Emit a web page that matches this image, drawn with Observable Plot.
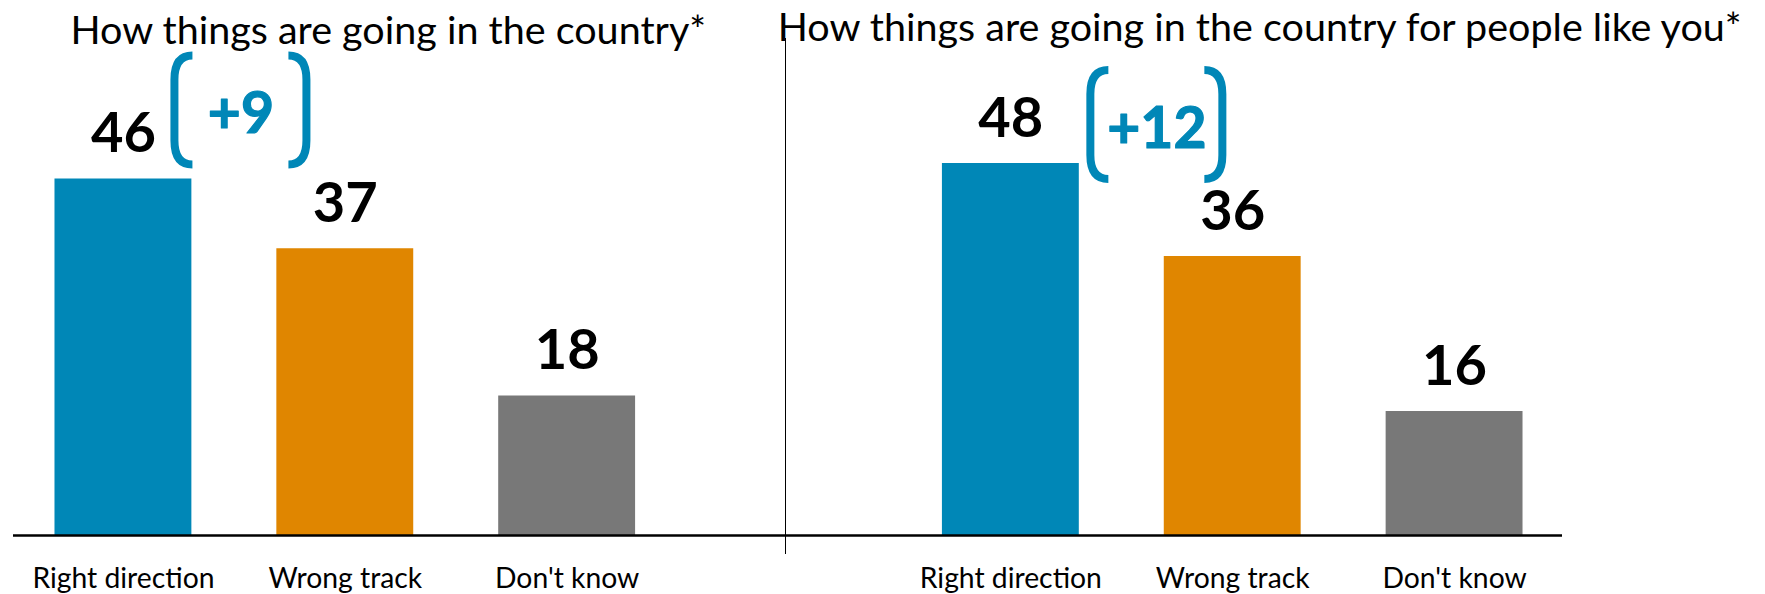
<!DOCTYPE html>
<html>
<head>
<meta charset="utf-8">
<script src="https://cdn.jsdelivr.net/npm/d3@7"></script>
<script src="https://cdn.jsdelivr.net/npm/@observablehq/plot@0.6"></script>
<style>
  html, body { margin: 0; padding: 0; background: #fff; }
  #chart svg { display: block; }
</style>
</head>
<body>
<div id="chart"></div>
<script>
// ---- data ----
const categories = ["Right direction", "Wrong track", "Don't know"];
const countryValues = [46, 37, 18];
const peopleValues = [48, 36, 16];
const panels = ["country", "people"];
const panelTitles = [
  "How things are going in the country*",
  "How things are going in the country for people like you*"
];
const barColors = ["#0087B7", "#E08600", "#787878"];
const accent = "#0087B7";

// ---- table ----
const gapKey = "gap";
const keyOf = (p, c) => p + "|" + c;
const valuesByPanel = { country: countryValues, people: peopleValues };
const rows = panels.flatMap(p => categories.map((c, i) => ({
  panel: p, category: c, key: keyOf(p, c), value: valuesByPanel[p][i]
})));
const xDomain = [
  ...categories.map(c => keyOf("country", c)),
  gapKey,
  ...categories.map(c => keyOf("people", c))
];

// per-panel annotation styling (pixel offsets)
const titleStyle = [{ dx: 43, dy: 43 }, { dx: 27, dy: 40 }];
const diffStyle = [{ dx: 117.5, dy: -46 }, { dx: 146, dy: -16 }];

const marks = [
  Plot.barY(rows, { x: "key", y: "value", fill: "category" }),
  Plot.text(rows, {
    x: "key", y: "value", text: d => String(d.value),
    dy: -27, lineAnchor: "bottom", fontSize: 56, fontWeight: "bold", fill: "black"
  }),
  Plot.ruleY([0], { stroke: "black", strokeWidth: 2.5, insetLeft: 1, insetRight: 3 }),
  Plot.ruleX([gapKey], { x: d => d, dx: -3.5, stroke: "black", strokeWidth: 1, insetTop: 38, insetBottom: -19 }),
  Plot.axisX({
    label: null, tickSize: 0, tickPadding: 32, fontSize: 28.3, fill: "black",
    tickFormat: k => k === gapKey ? "" : k.split("|")[1]
  })
];

panels.forEach((p, i) => {
  marks.push(Plot.text([panelTitles[i]], {
    x: () => keyOf(p, "Wrong track"), text: d => d,
    frameAnchor: "top", lineAnchor: "bottom",
    dx: titleStyle[i].dx, dy: titleStyle[i].dy, fontSize: 39.5, fill: "black"
  }));
  const pr = rows.filter(r => r.panel === p);
  const first = pr.find(r => r.category === "Right direction");
  const second = pr.find(r => r.category === "Wrong track");
  marks.push(Plot.text([first], {
    x: "key", y: "value", text: d => "+" + (d.value - second.value),
    dx: diffStyle[i].dx, dy: diffStyle[i].dy, lineAnchor: "bottom",
    fontSize: 57, fontWeight: "bold", fill: accent,
    stroke: accent, strokeWidth: 1.2
  }));
});

// brackets around the difference labels, positioned with the plot's scales
marks.push((index, scales) => {
  const g = d3.create("svg:g")
    .attr("fill", "none").attr("stroke", accent)
    .attr("stroke-width", 8).attr("stroke-linecap", "butt");
  const bw = scales.x.bandwidth ? scales.x.bandwidth() : 0;
  panels.forEach((p, i) => {
    const first = rows.find(r => r.panel === p && r.category === "Right direction");
    const cx = scales.x(first.key) + bw / 2 + diffStyle[i].dx;
    const base = scales.y(first.value) + diffStyle[i].dy;
    const top = base - 81 + 4, bot = base + 36 - 4;
    [-1, 1].forEach(s => {
      const xv = cx + s * 66, xt = cx + s * 48, xm = cx + s * 60;
      g.append("path").attr("d",
        `M${xt},${top} C${xm},${top} ${xv},${top + 8} ${xv},${top + 24} ` +
        `L${xv},${bot - 24} C${xv},${bot - 8} ${xm},${bot} ${xt},${bot}`);
    });
  });
  return g.node();
});

const chart = Plot.plot({
  width: 1765,
  height: 594,
  marginTop: 0,
  marginBottom: 59,
  marginLeft: 12,
  marginRight: 200,
  style: { fontFamily: "Lato, sans-serif", background: "white", overflow: "visible", color: "black" },
  x: { type: "band", domain: xDomain, paddingInner: 0.383, paddingOuter: 0.1915, axis: null, round: false },
  y: { domain: [0, 535 / 7.75], axis: null },
  color: { domain: categories, range: barColors },
  marks
});
document.getElementById("chart").appendChild(chart);
</script>
</body>
</html>
